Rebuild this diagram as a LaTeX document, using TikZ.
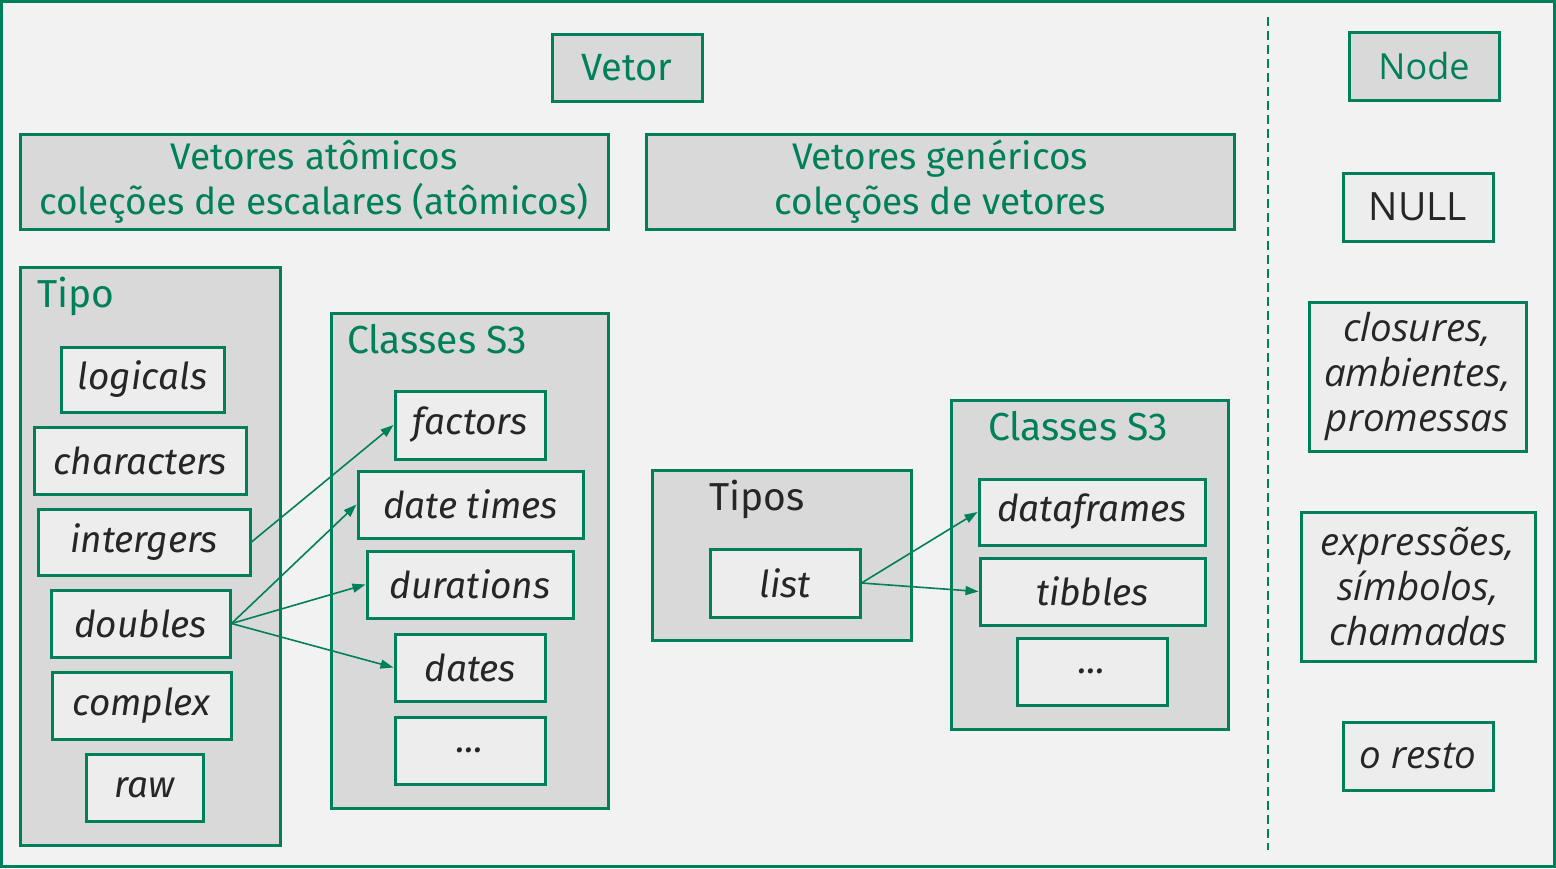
\documentclass[tikz,border=0pt]{standalone}
\usepackage{fontspec}
\setmainfont{Fira Sans}
\newfontfamily\rightfont{Open Sans}
\usetikzlibrary{arrows.meta}
\definecolor{grn}{RGB}{0,128,90}
\definecolor{bgc}{RGB}{242,242,242}
\definecolor{boxc}{RGB}{217,217,217}
\definecolor{itemc}{RGB}{237,237,237}
\definecolor{txt}{RGB}{38,38,38}
\newcommand\bx[7]{\node[#2, minimum width={(#5-#3)*1pt}, minimum height={(#6-#4)*1pt}] (#1) at ({(#3+#5)/2},{(#4+#6)/2}) {#7};}
\begin{document}
\begin{tikzpicture}[x=1pt,y=-1pt,
  frame/.style={draw=grn, line width=3pt},
  titlebox/.style={frame, fill=boxc, text=grn, inner sep=0pt, align=center, font=\fontsize{37}{45}\selectfont},
  contbox/.style={frame, fill=boxc, inner sep=0pt},
  itembox/.style={frame, fill=itemc, text=txt, inner sep=0pt, align=center, font=\fontsize{37}{40}\selectfont\itshape},
  rbox/.style={frame, fill=itemc, text=txt, inner sep=0pt, align=center, font=\rightfont\fontsize{38.5}{45}\selectfont\itshape},
  lbl/.style={text=grn, anchor=base west, inner sep=0pt, font=\fontsize{39}{40}\selectfont},
  arr/.style={draw=grn, line width=1.6pt, -{Triangle[length=13pt,width=9pt]}}
]
\useasboundingbox (0,0) rectangle (1556,868);
\draw[fill=bgc, draw=grn, line width=3pt] (1.5,1.5) rectangle (1554.5,866.5);
\coordinate (dtop) at (1268,17);
\coordinate (dbot) at (1268,850);
\draw[draw=grn, line width=2pt, dash pattern=on 9pt off 5pt] (dtop) -- (dbot);

\bx{vetor}{titlebox, font=\fontsize{38}{40}\selectfont}{552}{34}{702}{101}{Vetor}
\bx{atom}{titlebox}{20}{134}{608}{229}{Vetores atômicos\\coleções de escalares (atômicos)}
\bx{gen}{titlebox}{646}{134}{1234}{229}{Vetores genéricos\\coleções de vetores}

\bx{tipo}{contbox}{20}{267}{280}{845}{}
\node[lbl] (tipolbl) at (37,307) {Tipo};
\bx{cls}{contbox}{331}{313}{608}{808}{}
\node[lbl] (clslbl) at (347,353) {Classes S3};

\bx{logicals}{itembox}{61}{347}{224}{412}{logicals}
\bx{characters}{itembox}{34}{427}{246}{494}{characters}
\bx{intergers}{itembox}{38}{509}{250}{575}{intergers}
\bx{doubles}{itembox}{51}{590}{230}{657}{doubles}
\bx{complex}{itembox}{52}{672}{231}{739}{complex}
\bx{raw}{itembox}{86}{754}{203}{821}{raw}

\bx{factors}{itembox}{395}{391}{545}{459}{factors}
\bx{datetimes}{itembox}{358}{471}{583}{538}{date times}
\bx{durations}{itembox}{367}{551}{573}{618}{durations}
\bx{dates}{itembox}{395}{634}{545}{701}{dates}
\bx{etc1}{itembox}{395}{717}{545}{784}{...}

\bx{tipos}{contbox}{652}{470}{911}{640}{}
\node[lbl, text=txt] (tiposlbl) at (709,510) {Tipos};
\bx{list}{itembox}{710}{549}{860}{617}{list}

\bx{cls2}{contbox}{951}{400}{1228}{729}{}
\node[lbl] (cls2lbl) at (988,440) {Classes S3};
\bx{dataframes}{itembox}{979}{479}{1205}{545}{dataframes}
\bx{tibbles}{itembox}{980}{558}{1205}{625}{tibbles}
\bx{etc2}{itembox}{1017}{638}{1167}{705}{...}

\bx{node}{titlebox, font=\rightfont\fontsize{36}{40}\selectfont}{1349}{32}{1499}{100}{Node}
\bx{null}{rbox, font=\rightfont\fontsize{39}{40}\selectfont}{1343}{173}{1493}{241}{NULL}
\bx{clos}{rbox}{1309}{302}{1526}{451}{closures,\\ambientes,\\promessas}
\bx{expr}{rbox}{1301}{512}{1535}{661}{expressões,\\símbolos,\\chamadas}
\bx{resto}{rbox}{1343}{722}{1493}{790}{o resto}

\draw[arr] (intergers.east) -- (factors.west);
\draw[arr] (doubles.east) -- (datetimes.west);
\draw[arr] (doubles.east) -- (durations.west);
\draw[arr] (doubles.east) -- (dates.west);
\draw[arr] (list.east) -- (dataframes.west);
\draw[arr] (list.east) -- (tibbles.west);
\end{tikzpicture}
\end{document}
